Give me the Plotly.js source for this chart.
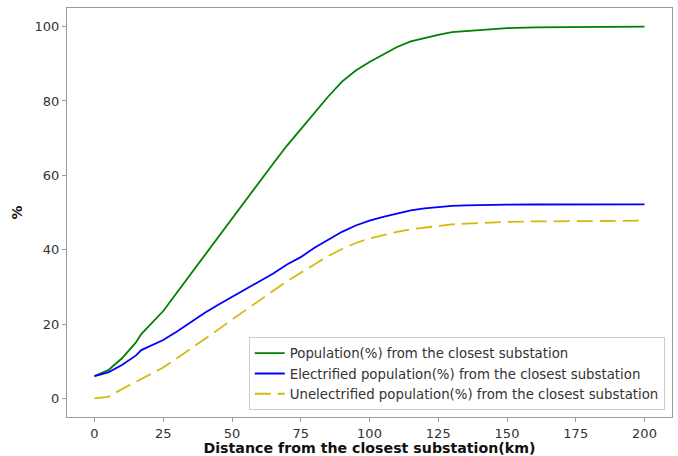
<!DOCTYPE html>
<html>
<head>
<meta charset="utf-8">
<script src="https://cdn.plot.ly/plotly-3.0.1.min.js"></script>
<style>html,body{margin:0;padding:0;background:#fff;}#chart{width:678px;height:456px;}</style>
</head>
<body>
<div id="chart"></div>
<script>
const distance = [0,5,10,15,17,20,25,30,35,40,45,50,55,60,65,70,75,80,85,90,95,100,105,110,115,120,125,130,135,140,145,150,160,170,180,190,200];
const population = [6,7.6,10.8,15,17.3,19.6,23.5,28.5,33.5,38.5,43.5,48.5,53.5,58.5,63.2,68,72.5,77,81.2,85.2,88.2,90.5,92.6,94.5,96,97,97.8,98.5,98.8,99.2,99.5,99.6,99.8,99.9,99.95,100,100];
const electrified = [6,7,9,11.5,13,14,15.7,18,20.5,23,25.2,27.3,29.5,31.5,33.6,36,38,40.5,42.6,44.8,46.5,47.8,48.8,49.8,50.6,51.1,51.5,51.8,51.9,52,52.05,52.1,52.15,52.2,52.2,52.2,52.2];
const unelectrified = [0,0.4,2.5,4.4,5.2,6.3,8.3,10.8,13.3,15.9,18.5,21.2,23.8,26.5,29,31.5,33.8,36,38.3,40.2,41.8,43,44,44.8,45.5,46,46.5,46.8,47,47.2,47.4,47.5,47.6,47.7,47.75,47.8,47.8];
const seriesNames = [
  "Population(%) from the closest substation",
  "Electrified population(%) from the closest substation",
  "Unelectrified population(%) from the closest substation"
];
const xTicks = [0,25,50,75,100,125,150,175,200];
const yTicks = [0,20,40,60,80,100];

const font = "DejaVu Sans, sans-serif";
const traces = [
  {x: distance, y: population, name: seriesNames[0], mode: "lines", line: {color: "#008000", width: 1.8}},
  {x: distance, y: electrified, name: seriesNames[1], mode: "lines", line: {color: "#0000ff", width: 1.8}},
  {x: distance, y: unelectrified, name: seriesNames[2], mode: "lines", line: {color: "#d6b80e", width: 1.8, dash: "16px,7px"}}
];
const axisCommon = {
  showgrid: false, zeroline: false, showline: true, mirror: true,
  linecolor: "#9a9a9a", linewidth: 1, ticks: "outside", ticklen: 4,
  tickcolor: "#9a9a9a", tickfont: {family: font, size: 13, color: "#333"}
};
const layout = {
  width: 678, height: 456,
  margin: {l: 67, r: 6, t: 8, b: 39},
  paper_bgcolor: "#fff", plot_bgcolor: "#fff",
  showlegend: true,
  legend: {
    x: 0.988, xanchor: "right", y: 0.017, yanchor: "bottom",
    bgcolor: "#fff", bordercolor: "#cccccc", borderwidth: 1,
    font: {family: font, size: 13.3, color: "#333"}, tracegroupgap: 0
  },
  xaxis: Object.assign({}, axisCommon, {
    range: [-10, 210], tickvals: xTicks, ticktext: xTicks.map(String),
    title: {text: "<b>Distance from the closest substation(km)</b>", font: {family: font, size: 14.2, color: "#111"}, standoff: 3}
  }),
  yaxis: Object.assign({}, axisCommon, {
    range: [-5, 105], tickvals: yTicks, ticktext: yTicks.map(String),
    title: {text: "<b>%</b>", font: {family: font, size: 14, color: "#111"}, standoff: 8}
  })
};
Plotly.newPlot("chart", traces, layout, {displayModeBar: false, staticPlot: true});
</script>
</body>
</html>
